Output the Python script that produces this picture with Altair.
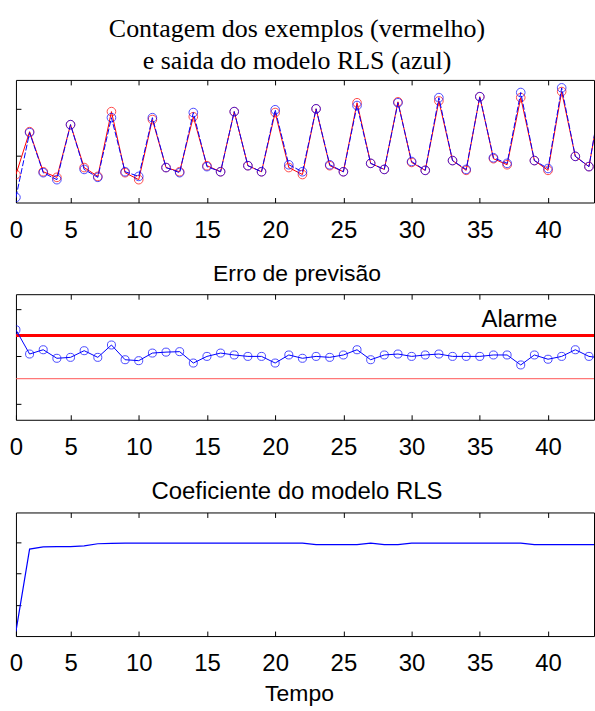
import altair as alt
import pandas as pd

# ---------------- data ----------------
tempo = list(range(1, 45))
contagem = [6.0, 15.2, 6.6, 5.4, 16.7, 7.5, 5.6, 19.5, 6.4, 4.9, 17.8, 7.5, 6.6, 18.4, 7.9,
            6.6, 19.5, 7.9, 6.6, 19.3, 7.5, 6.0, 20.1, 7.9, 6.6, 21.4, 8.4, 7.1, 21.6, 8.6,
            6.9, 21.8, 9.0, 6.9, 22.7, 9.4, 8.1, 22.5, 9.0, 6.9, 23.8, 9.9, 7.7, 24.2]
saida_rls = [1.1, 15.0, 6.4, 4.9, 16.7, 7.1, 5.4, 18.2, 6.6, 5.6, 18.2, 7.5, 6.4, 19.3, 7.7,
             6.6, 19.5, 7.9, 6.6, 19.9, 8.1, 6.6, 20.1, 8.1, 6.6, 20.8, 8.4, 7.1, 21.4, 8.8,
             6.9, 22.5, 9.0, 7.1, 22.7, 9.6, 8.4, 23.6, 9.0, 7.3, 24.6, 9.9, 7.7, 24.8]
erro = [0.56, 0.05, 0.14, -0.04, -0.02, 0.12, -0.02, 0.24, -0.07, -0.09, 0.07, 0.09, 0.10,
        -0.14, 0.0, 0.07, 0.03, 0.0, 0.0, -0.14, 0.03, -0.04, 0.0, -0.02, 0.03, 0.14, -0.07,
        0.03, 0.05, 0.0, 0.03, 0.05, 0.0, 0.0, 0.0, 0.03, 0.03, -0.18, 0.03, -0.06, 0.0,
        0.14, 0.0, -0.04]
coeficiente = [0.15, 2.78, 2.85, 2.86, 2.86, 2.88, 2.95, 2.96] + [2.97] * 14 + [2.92] * 4 + \
              [2.97] + [2.92] * 2 + [2.97] * 9 + [2.92] * 6
limites = [0.44, -0.47]
limite_largura = [3, 1]
limite_cor = ["#ff0000", "#ff5555"]
alarme_txt = ["Alarme"]
alarme_t = [37.9]
alarme_y = [0.62]

x_ticks = [1, 5, 10, 15, 20, 25, 30, 35, 40]
x_domain = [1, 43.37]

df = pd.DataFrame({"t": tempo, "contagem": contagem, "rls": saida_rls,
                   "erro": erro, "coef": coeficiente})
df_lim = pd.DataFrame({"y": limites, "w": limite_largura, "c": limite_cor})
df_txt = pd.DataFrame({"t": alarme_t, "y": alarme_y, "txt": alarme_txt})

SANS = "Liberation Sans"
SERIF = "Liberation Serif"
RED = "#ff0000"
BLUE = "#0000ff"
W = 580


def xscale():
    return alt.Scale(domain=x_domain, nice=False, zero=False)


def x_bottom(title=None):
    return alt.Axis(orient="bottom", values=x_ticks,
                    labelExpr="datum.value == 1 ? '0' : datum.label",
                    domain=False, ticks=True, tickSize=5, offset=-5, tickColor="black",
                    labelPadding=16, labelFontSize=24, labelFont=SANS, labelColor="black",
                    labelOverlap=False, labelFlush=False, grid=False, title=title,
                    titleFont=SANS, titleFontSize=23, titleFontWeight="normal",
                    titleColor="black", titlePadding=7, titleX=284)


def x_top():
    return alt.Axis(orient="top", values=x_ticks[1:], labels=False, domain=False,
                    ticks=True, tickSize=5, offset=-5, tickColor="black", grid=False,
                    title=None)


def y_left(vals):
    return alt.Axis(orient="left", values=vals, labels=False, domain=False, ticks=True,
                    tickSize=5, offset=-5, tickColor="black", grid=False, title=None)


# ---------------- panel 1 ----------------
y1 = alt.Scale(domain=[0, 26.3], nice=False, zero=False)
base1 = alt.Chart(df)
p1 = alt.layer(
    base1.mark_line(color=RED, strokeWidth=1, clip=True).encode(
        x=alt.X("t:Q", scale=xscale(), axis=x_bottom()),
        y=alt.Y("contagem:Q", scale=y1, axis=y_left([10, 20]))),
    base1.mark_point(shape="circle", color=RED, size=75, strokeWidth=1, filled=False,
                     clip=True).encode(
        x=alt.X("t:Q", scale=xscale(), axis=None),
        y=alt.Y("contagem:Q", scale=y1, axis=None)),
    base1.mark_line(color=BLUE, strokeWidth=1, strokeDash=[6, 2], clip=True).encode(
        x=alt.X("t:Q", scale=xscale(), axis=x_top()),
        y=alt.Y("rls:Q", scale=y1, axis=None)),
    base1.mark_point(shape="circle", color=BLUE, size=75, strokeWidth=1, filled=False,
                     clip=True).encode(
        x=alt.X("t:Q", scale=xscale(), axis=None),
        y=alt.Y("rls:Q", scale=y1, axis=None)),
).resolve_axis(x="independent", y="independent").properties(
    width=W, height=123,
    title=alt.TitleParams(["Contagem dos exemplos (vermelho)", "e saida do modelo RLS (azul)"],
                          font=SERIF, fontSize=26, fontWeight="normal", lineHeight=33,
                          color="black", anchor="middle", offset=5, dx=-8))

# ---------------- panel 2 ----------------
y2 = alt.Scale(domain=[-1.335, 1.31], nice=False, zero=False)
p2 = alt.layer(
    alt.Chart(df_lim).mark_rule(clip=True).encode(
        y=alt.Y("y:Q", scale=y2, axis=y_left([-1, 0, 1])),
        strokeWidth=alt.StrokeWidth("w:Q", scale=None, legend=None),
        color=alt.Color("c:N", scale=None, legend=None)),
    alt.Chart(df).mark_line(color=BLUE, strokeWidth=1, clip=True).encode(
        x=alt.X("t:Q", scale=xscale(), axis=x_bottom()),
        y=alt.Y("erro:Q", scale=y2, axis=None)),
    alt.Chart(df).mark_point(shape="circle", color=BLUE, size=65, strokeWidth=1,
                             filled=False, clip=True).encode(
        x=alt.X("t:Q", scale=xscale(), axis=x_top()),
        y=alt.Y("erro:Q", scale=y2, axis=None)),
    alt.Chart(df_txt).mark_text(font=SANS, fontSize=24, color="black", align="center",
                                baseline="alphabetic").encode(
        x=alt.X("t:Q", scale=xscale(), axis=None),
        y=alt.Y("y:Q", scale=y2, axis=None),
        text="txt:N"),
).resolve_axis(x="independent", y="independent").properties(
    width=W, height=126,
    title=alt.TitleParams("Erro de previsão", font=SANS, fontSize=23, fontWeight="normal",
                          color="black", anchor="middle", offset=8, dx=-8))

# ---------------- panel 3 ----------------
y3 = alt.Scale(domain=[0, 3.95], nice=False, zero=False)
p3 = alt.layer(
    alt.Chart(df).mark_line(color=BLUE, strokeWidth=1.2, clip=True).encode(
        x=alt.X("t:Q", scale=xscale(), axis=x_bottom("Tempo")),
        y=alt.Y("coef:Q", scale=y3, axis=y_left([1, 2, 3]))),
    alt.Chart(df).mark_line(color=BLUE, strokeWidth=1.2, opacity=0, clip=True).encode(
        x=alt.X("t:Q", scale=xscale(), axis=x_top()),
        y=alt.Y("coef:Q", scale=y3, axis=None)),
).resolve_axis(x="independent", y="independent").properties(
    width=W, height=124,
    title=alt.TitleParams("Coeficiente do modelo RLS", font=SANS, fontSize=24,
                          fontWeight="normal", color="black", anchor="middle", offset=8,
                          dx=-8))

chart = alt.vconcat(p1, p2, p3, spacing=19).properties(
    padding={"left": 8, "right": 0, "top": 14, "bottom": 0},
    background="white",
).configure_view(stroke="black", strokeWidth=1).configure_concat(spacing=19)

chart.save("out.html", embed_options={"renderer": "svg", "actions": False})
